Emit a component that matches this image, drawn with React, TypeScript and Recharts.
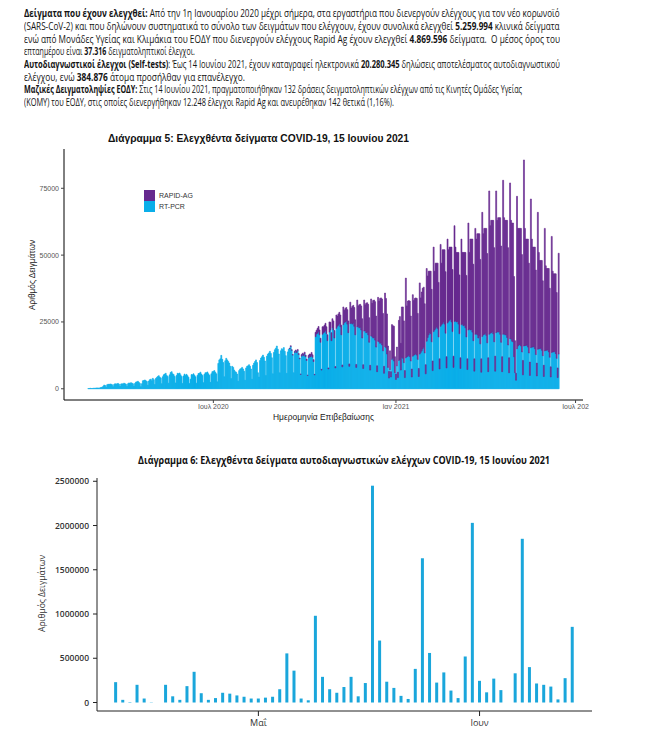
import { useLayoutEffect, useRef, useState } from 'react';
import { BarChart, Bar, XAxis, YAxis } from 'recharts';

// ---- Διάγραμμα 5: daily tested samples, in thousands ----
// one row per week, each row starts on a Wednesday (first row = 26 Feb 2020)
const PCR_K: number[] = [
  0.1, 0.1, 0.2, 0.1, 0.1, 0.2, 0.2,
  0.2, 0.3, 0.3, 0.3, 0.2, 0.4, 0.5,
  0.6, 0.9, 1.4, 1.2, 0.6, 1.5, 1.7,
  1.6, 1.8, 1.7, 1.5, 0.8, 1.6, 1.9,
  1.7, 1.9, 2.0, 1.7, 0.9, 1.8, 1.9,
  1.8, 2.1, 1.9, 1.7, 0.9, 1.9, 2.2,
  2.0, 2.3, 2.1, 1.9, 1.0, 2.0, 2.5,
  2.6, 2.8, 2.4, 2.0, 0.8, 1.9, 3.0,
  3.1, 3.3, 3.0, 2.7, 1.3, 2.9, 3.4,
  3.6, 3.0, 3.9, 3.4, 1.6, 3.8, 4.2,
  4.6, 4.9, 4.4, 4.0, 1.9, 4.5, 5.2,
  5.5, 5.8, 5.0, 4.6, 2.1, 5.2, 6.1,
  6.4, 5.6, 5.3, 4.6, 2.2, 5.0, 5.8,
  5.6, 5.9, 5.2, 4.6, 2.0, 4.8, 5.5,
  5.0, 5.4, 4.9, 4.3, 2.0, 3.6, 5.3,
  5.2, 5.6, 5.1, 4.5, 2.1, 5.0, 5.7,
  5.8, 6.2, 5.5, 5.0, 2.3, 5.4, 6.0,
  6.0, 6.3, 5.6, 5.1, 2.4, 5.6, 6.4,
  6.5, 6.8, 6.2, 5.6, 2.6, 9.5, 10.8,
  11.2, 12.5, 11.0, 9.8, 4.5, 10.5, 11.4,
  10.8, 10.2, 9.6, 8.4, 3.8, 8.4, 8.0,
  7.0, 6.4, 6.2, 5.5, 2.8, 6.8, 7.4,
  7.6, 8.0, 7.4, 6.6, 3.2, 7.8, 8.4,
  8.6, 9.0, 8.4, 7.4, 3.6, 8.8, 9.6,
  10.2, 10.8, 9.8, 6.0, 4.4, 10.6, 11.5,
  12.0, 12.6, 11.8, 10.4, 5.0, 12.2, 13.0,
  13.4, 14.0, 13.2, 11.6, 5.6, 13.6, 14.6,
  15.2, 16.0, 14.8, 13.0, 6.0, 14.2, 15.0,
  14.6, 15.4, 14.0, 12.4, 5.8, 13.8, 14.8,
  15.0, 15.8, 14.4, 12.6, 6.0, 13.6, 14.2,
  13.6, 14.2, 12.8, 11.2, 5.4, 12.2, 12.8,
  12.4, 13.0, 12.0, 10.6, 5.0, 11.6, 12.2,
  12.0, 12.6, 11.8, 10.2, 5.2, 19.5, 20.5,
  20.8, 21.4, 20.2, 17.4, 7.0, 20.4, 21.0,
  21.2, 21.8, 20.6, 18.0, 7.4, 21.2, 22.0,
  18.0, 22.8, 22.0, 19.0, 7.8, 22.6, 23.4,
  23.8, 24.4, 23.2, 20.2, 8.2, 24.0, 24.8,
  25.0, 25.4, 24.2, 21.0, 8.4, 24.4, 24.6,
  24.2, 24.6, 23.4, 20.2, 8.0, 23.2, 23.4,
  22.8, 23.0, 22.0, 19.0, 7.6, 21.6, 21.8,
  21.0, 21.2, 20.2, 17.4, 7.0, 19.8, 19.6,
  19.0, 19.2, 18.2, 15.6, 6.4, 17.8, 17.6,
  17.0, 17.2, 16.4, 14.2, 5.8, 15.8, 15.4,
  13.0, 8.0, 4.0, 7.2, 4.4, 11.0, 11.6,
  10.4, 6.0, 3.5, 8.6, 4.2, 10.6, 11.0,
  7.0, 11.8, 11.4, 9.8, 4.2, 11.6, 12.0,
  12.2, 12.6, 12.0, 10.4, 4.4, 12.2, 12.6,
  12.8, 13.2, 12.6, 11.0, 4.6, 13.0, 13.6,
  14.2, 15.0, 15.6, 13.4, 5.6, 17.8, 19.2,
  20.2, 21.0, 20.6, 17.6, 6.8, 21.4, 22.0,
  22.6, 23.2, 22.6, 19.4, 7.4, 23.4, 24.0,
  24.4, 25.0, 24.2, 20.8, 7.8, 24.6, 25.2,
  25.6, 26.0, 25.0, 21.4, 8.0, 25.2, 25.4,
  25.0, 25.2, 24.2, 20.6, 7.6, 24.0, 24.2,
  23.6, 23.8, 22.8, 19.4, 7.2, 22.0, 22.4,
  22.0, 22.2, 21.2, 18.0, 6.6, 20.4, 20.6,
  20.2, 19.0, 19.8, 16.8, 6.2, 19.6, 20.2,
  20.4, 20.8, 20.0, 17.2, 6.4, 20.4, 20.8,
  21.0, 21.4, 20.6, 17.6, 6.6, 21.0, 21.4,
  21.2, 21.4, 20.4, 17.4, 6.4, 20.4, 20.6,
  20.2, 20.2, 19.2, 16.4, 6.0, 18.8, 18.6,
  17.8, 17.6, 12.0, 6.0, 3.2, 15.0, 16.0,
  16.4, 16.6, 16.0, 13.8, 5.2, 16.0, 16.2,
  16.2, 16.4, 15.6, 13.4, 5.0, 15.4, 15.6,
  15.6, 15.8, 15.0, 12.8, 4.8, 14.8, 15.0,
  15.0, 15.2, 14.4, 12.4, 4.6, 14.2, 14.4,
  14.4, 14.6, 13.8, 11.8, 4.4, 13.6, 13.8,
  13.8, 14.0, 13.2, 11.4, 4.2, 13.0,
];

// rapid antigen tests start on 16 Sep 2020 (day 203), same weekly rows
const RAPID_START = 203;
const RAPID_K: number[] = [
  0.2, 0.3, 0.2, 0.2, 0.0, 0.4, 0.3,
  0.4, 0.5, 0.4, 0.3, 0.1, 0.6, 0.5,
  0.6, 0.7, 0.6, 0.5, 0.1, 0.9, 0.8,
  0.9, 1.0, 0.9, 0.7, 0.2, 1.6, 1.4,
  1.8, 1.9, 1.8, 1.5, 0.3, 2.8, 2.2,
  2.6, 2.7, 2.6, 2.2, 0.4, 3.8, 2.9,
  3.0, 3.4, 3.4, 2.8, 0.5, 5.0, 3.8,
  4.2, 4.2, 4.4, 3.6, 0.7, 6.6, 4.6,
  5.0, 5.0, 5.4, 4.4, 0.9, 8.0, 5.6,
  6.6, 6.6, 7.0, 5.6, 1.1, 10.0, 7.6,
  8.6, 8.6, 9.0, 7.2, 1.4, 11.6, 9.6,
  11.0, 11.0, 11.4, 9.2, 1.8, 13.8, 12.4,
  14.0, 14.0, 14.4, 11.6, 2.2, 16.4, 15.2,
  16.8, 16.8, 17.2, 14.0, 2.6, 20.0, 18.4,
  15.0, 8.0, 2.5, 7.0, 2.0, 13.0, 12.0,
  13.0, 6.0, 2.0, 7.0, 2.0, 15.0, 16.0,
  10.0, 18.8, 19.2, 15.6, 2.6, 29.8, 19.0,
  20.6, 20.4, 20.8, 16.8, 3.0, 23.0, 20.4,
  21.0, 20.8, 21.2, 17.2, 3.0, 26.6, 20.4,
  22.0, 22.6, 22.4, 18.4, 3.4, 27.2, 23.0,
  23.8, 23.0, 23.4, 19.6, 3.6, 31.6, 22.0,
  24.4, 23.8, 24.4, 20.4, 3.8, 30.6, 23.0,
  27.6, 27.0, 27.8, 23.0, 4.2, 31.4, 26.8,
  27.4, 27.0, 28.0, 23.2, 4.2, 35.8, 27.6,
  26.0, 25.8, 26.8, 22.0, 4.0, 32.0, 26.8,
  27.4, 27.2, 28.2, 23.0, 4.0, 40.0, 28.6,
  34.0, 33.8, 34.8, 28.6, 4.6, 39.6, 35.4,
  37.8, 39.0, 38.2, 31.6, 5.0, 46.4, 37.8,
  39.6, 39.2, 40.0, 33.4, 5.2, 53.6, 40.2,
  42.0, 41.6, 42.4, 35.2, 5.6, 53.0, 41.6,
  42.8, 42.6, 43.6, 36.0, 5.6, 57.6, 43.4,
  42.8, 42.8, 43.8, 36.4, 5.6, 58.2, 44.4,
  44.2, 44.4, 30.0, 12.0, 2.6, 57.0, 44.0,
  43.6, 43.4, 44.0, 36.4, 5.4, 69.6, 43.8,
  39.8, 39.6, 40.4, 33.6, 5.0, 55.6, 40.4,
  37.4, 37.2, 38.0, 31.6, 4.8, 51.2, 36.0,
  33.0, 32.8, 33.6, 28.0, 4.2, 45.8, 31.6,
  30.6, 30.4, 31.2, 25.8, 3.8, 43.4, 30.2,
  29.2, 29.0, 29.8, 24.6, 3.6, 37.7,
];

const DAY_TICKS = [126, 310, 491];
const DAY_TICK_LABELS = ['Ιουλ 2020', 'Ιαν 2021', 'Ιουλ 202'];
const Y5_TICKS = [0, 25000, 50000, 75000];

// ---- Διάγραμμα 6: self-tests per day, 11 Apr 2021 .. 14 Jun 2021 ----
const SELF_TESTS: number[] = [
  230000, 30000, 5000, 200000, 45000, 3000, 0, 200000, 70000, 30000,
  185000, 347000, 105000, 30000, 50000, 110000, 100000, 80000, 65000, 45000,
  45000, 55000, 65000, 150000, 555000, 360000, 45000, 25000, 980000, 290000,
  150000, 110000, 175000, 290000, 70000, 220000, 2450000, 700000, 235000, 165000,
  75000, 40000, 380000, 1630000, 560000, 225000, 340000, 135000, 50000, 520000,
  2030000, 245000, 115000, 270000, 140000, 0, 330000, 1850000, 400000, 215000,
  200000, 180000, 35000, 275000, 855000,
];
const MONTH_TICKS = [20, 51];
const MONTH_LABELS = ['Μαΐ', 'Ιουν'];
const Y6_TICKS = [0, 500000, 1000000, 1500000, 2000000, 2500000];

const dailyData = PCR_K.map((v, d) => ({
  day: d,
  pcr: Math.round(v * 1000),
  rapid: d >= RAPID_START ? Math.round(RAPID_K[d - RAPID_START] * 1000) : 0,
}));

const selfData = SELF_TESTS.map((v, i) => ({ i, v }));

type Seg = [string, boolean];
const PARAGRAPH: { segs: Seg[]; y: number; w: number }[] = [
  { y: 16.5, w: 536, segs: [['Δείγματα που έχουν ελεγχθεί:', true], [' Από την 1η Ιανουαρίου 2020 μέχρι σήμερα, στα εργαστήρια που διενεργούν ελέγχους για τον νέο κορωνοϊό', false]] },
  { y: 29.5, w: 536, segs: [['(SARS-CoV-2) και που δηλώνουν συστηματικά το σύνολο των δειγμάτων που ελέγχουν, έχουν συνολικά ελεγχθεί ', false], ['5.259.994', true], [' κλινικά δείγματα', false]] },
  { y: 42.5, w: 536, segs: [['ενώ από Μονάδες Υγείας και Κλιμάκια του ΕΟΔΥ που διενεργούν ελέγχους Rapid Ag έχουν ελεγχθεί ', false], ['4.869.596', true], [' δείγματα.  Ο μέσος όρος του', false]] },
  { y: 55, w: 171, segs: [['επταημέρου είναι ', false], ['37.316', true], [' δειγματοληπτικοί έλεγχοι.', false]] },
  { y: 67.5, w: 536, segs: [['Αυτοδιαγνωστικοί έλεγχοι (Self-tests)', true], [': Έως 14 Ιουνίου 2021, έχουν καταγραφεί ηλεκτρονικά ', false], ['20.280.345', true], [' δηλώσεις αποτελέσματος αυτοδιαγνωστικού', false]] },
  { y: 80.5, w: 221, segs: [['ελέγχου, ενώ ', false], ['384.876', true], [' άτομα προσήλθαν για επανέλεγχο.', false]] },
  { y: 93, w: 498, segs: [['Μαζικές Δειγματοληψίες ΕΟΔΥ:', true], [' Στις 14 Ιουνίου 2021, πραγματοποιήθηκαν 132 δράσεις δειγματοληπτικών ελέγχων από τις Κινητές Ομάδες Υγείας', false]] },
  { y: 106, w: 370, segs: [['(ΚΟΜΥ) του ΕΟΔΥ, στις οποίες διενεργήθηκαν 12.248 έλεγχοι Rapid Ag και ανευρέθηκαν 142 θετικά (1,16%).', false]] },
];

const PURPLE = '#66298F';
const CYAN = '#0AAEE9';
const BLUE6 = '#1AA6DB';
const GG = '"Liberation Sans", Arial, sans-serif';
const DOC = '"Open Sans", "Noto Sans", sans-serif';

// one line of the paragraph, squeezed horizontally to the width it has on the page
function FitLine({ segs, y, w }: { segs: Seg[]; y: number; w: number }) {
  const ref = useRef<HTMLDivElement>(null);
  const [scale, setScale] = useState(1);
  useLayoutEffect(() => {
    if (ref.current) setScale(w / ref.current.scrollWidth);
  }, [w]);
  return (
    <div
      ref={ref}
      style={{
        position: 'absolute',
        left: 24,
        top: y - 9,
        width: 'max-content',
        whiteSpace: 'pre',
        fontFamily: DOC,
        fontSize: 10,
        lineHeight: '11px',
        color: '#141414',
        transform: `scaleX(${scale})`,
        transformOrigin: '0 0',
      }}
    >
      {segs.map(([t, b], j) => (
        <span key={j} style={{ fontWeight: b ? 700 : 400 }}>{t}</span>
      ))}
    </div>
  );
}

export default function App() {
  return (
    <div style={{ position: 'absolute', left: 0, top: 0, width: 656, height: 731, background: '#fff', overflow: 'hidden' }}>
      {PARAGRAPH.map((line, k) => (
        <FitLine key={k} segs={line.segs} y={line.y} w={line.w} />
      ))}

      <div style={{ position: 'absolute', left: 0, top: 140 }}>
        <BarChart width={600} height={290} data={dailyData} margin={{ top: 9, right: 17, bottom: 0, left: 0 }} barGap={0} barCategoryGap={0}>
          <XAxis
            dataKey="day"
            type="number"
            domain={[-24.5, 498.5]}
            allowDataOverflow
            ticks={DAY_TICKS}
            tickFormatter={(v: number) => DAY_TICK_LABELS[DAY_TICKS.indexOf(v)] ?? ''}
            tick={{ fontSize: 7, fill: '#555', fontFamily: GG }}
            tickSize={3}
            tickMargin={1}
            tickLine={{ stroke: '#444' }}
            axisLine={{ stroke: '#000' }}
            height={30}
          />
          <YAxis
            type="number"
            domain={[-4200, 89700]}
            allowDataOverflow
            ticks={Y5_TICKS}
            tick={{ fontSize: 7, fill: '#555', fontFamily: GG }}
            tickSize={3}
            tickMargin={2}
            tickLine={{ stroke: '#444' }}
            axisLine={{ stroke: '#000' }}
            width={64}
          />
          <Bar dataKey="pcr" stackId="t" fill={CYAN} stroke={CYAN} strokeWidth={0.6} isAnimationActive={false} />
          <Bar dataKey="rapid" stackId="t" fill={PURPLE} stroke={PURPLE} strokeWidth={0.6} isAnimationActive={false} />
        </BarChart>
      </div>

      <div style={{ position: 'absolute', left: 0, top: 470 }}>
        <BarChart width={600} height={266} data={selfData} margin={{ top: 8, right: 8, bottom: 0, left: 0 }}>
          <XAxis
            dataKey="i"
            type="number"
            domain={[-2.62, 66.76]}
            allowDataOverflow
            ticks={MONTH_TICKS}
            tickFormatter={(v: number) => MONTH_LABELS[MONTH_TICKS.indexOf(v)] ?? ''}
            tick={{ fontSize: 9, fill: '#333', fontFamily: DOC }}
            tickSize={5}
            tickMargin={4}
            tickLine={{ stroke: '#222' }}
            axisLine={{ stroke: '#222' }}
            height={25}
          />
          <YAxis
            type="number"
            domain={[-96000, 2537000]}
            allowDataOverflow
            ticks={Y6_TICKS}
            tick={{ fontSize: 8.5, fill: '#333', fontFamily: DOC, fontWeight: 600 }}
            tickSize={4}
            tickMargin={4}
            tickLine={{ stroke: '#222' }}
            axisLine={{ stroke: '#222' }}
            width={97}
          />
          <Bar dataKey="v" fill={BLUE6} barSize={3} isAnimationActive={false} />
        </BarChart>
      </div>

      <svg width={656} height={731} style={{ position: 'absolute', left: 0, top: 0, pointerEvents: 'none' }}>
        <text x={108} y={141.5} fontSize={10} fontWeight={700} fontFamily={GG} fill="#111" textLength={301} lengthAdjust="spacingAndGlyphs">
          Διάγραμμα 5: Ελεγχθέντα δείγματα COVID-19, 15 Ιουνίου 2021
        </text>
        <rect x={144} y={190} width={11} height={11} fill={PURPLE} />
        <rect x={144} y={201} width={11} height={11} fill={CYAN} />
        <text x={159} y={198} fontSize={7} fontFamily={GG} fill="#333">RAPID-AG</text>
        <text x={159} y={209} fontSize={7} fontFamily={GG} fill="#333">RT-PCR</text>
        <text x={273} y={420} fontSize={9} fontFamily={GG} fill="#222" textLength={101} lengthAdjust="spacingAndGlyphs">
          Ημερομηνία Επιβεβαίωσης
        </text>
        <text x={35} y={310} fontSize={9} fontFamily={GG} fill="#222" textLength={70} lengthAdjust="spacingAndGlyphs" transform="rotate(-90 35 310)">
          Αριθμός Δειγμάτων
        </text>

        <text x={138} y={464} fontSize={10} fontWeight={700} fontFamily={DOC} fill="#111" textLength={412} lengthAdjust="spacingAndGlyphs">
          Διάγραμμα 6: Ελεγχθέντα δείγματα αυτοδιαγνωστικών ελέγχων COVID-19, 15 Ιουνίου 2021
        </text>
        <text x={45} y={632} fontSize={9} fontFamily={DOC} fill="#333" textLength={77} lengthAdjust="spacingAndGlyphs" transform="rotate(-90 45 632)">
          Αριθμός Δειγμάτων
        </text>
      </svg>
    </div>
  );
}
